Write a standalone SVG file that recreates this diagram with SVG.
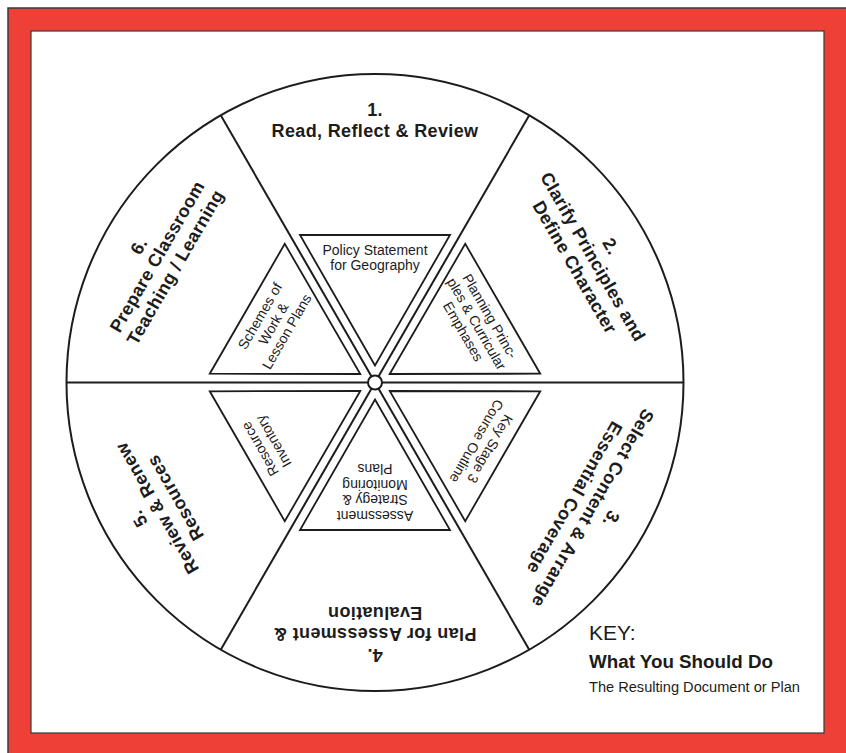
<svg xmlns="http://www.w3.org/2000/svg" width="846" height="753" viewBox="0 0 846 753">
<style>
.ln{fill:none;stroke:#1c1c1c;stroke-width:2}
.tri{fill:#fff;stroke:#1c1c1c;stroke-width:1.8}
.lab{font-family:"Liberation Sans",Arial,Helvetica,sans-serif;font-weight:bold;font-size:18px;letter-spacing:0.35px;fill:#1c1c1c;text-anchor:middle}
.doc{font-family:"Liberation Sans",Arial,Helvetica,sans-serif;font-size:14px;fill:#1c1c1c;text-anchor:middle}
.key{font-family:"Liberation Sans",Arial,Helvetica,sans-serif;fill:#1c1c1c}
</style>
<defs>
<polygon id="triShape" points="375,365.5 300,235 450,235"/>
</defs>
<rect x="0" y="0" width="846" height="753" fill="#ffffff"/>
<rect x="8" y="8" width="842" height="750" fill="#EE4036" stroke="#3a3a3a" stroke-width="1.5"/>
<rect x="31" y="31" width="793" height="702" fill="#ffffff" stroke="#3a3a3a" stroke-width="1.2"/>

<g id="wheel">
<circle cx="375" cy="382.5" r="308.5" class="ln" stroke-width="2.4"/>
<g id="connectors" class="ln">
<line x1="66.5" y1="382.5" x2="683.5" y2="382.5"/>
<line x1="220.75" y1="115.3" x2="529.25" y2="649.7"/>
<line x1="529.25" y1="115.3" x2="220.75" y2="649.7"/>
</g>
</g>

<g id="step-1" transform="rotate(0 375 382.5)">
<text class="lab" x="375" y="116">1.</text>
<text class="lab" x="375" y="137">Read, Reflect &amp; Review</text>
</g>
<g id="step-2" transform="rotate(60 375 382.5)">
<text class="lab" x="375" y="116">2.</text>
<text class="lab" x="375" y="137">Clarify Principles and</text>
<text class="lab" x="375" y="158">Define Character</text>
</g>
<g id="step-3" transform="rotate(120 375 382.5)">
<text class="lab" x="375" y="116">3.</text>
<text class="lab" x="375" y="137">Select Content &amp; Arrange</text>
<text class="lab" x="375" y="158">Essential Coverage</text>
</g>
<g id="step-4" transform="rotate(180 375 382.5)">
<text class="lab" x="375" y="116">4.</text>
<text class="lab" x="375" y="137">Plan for Assessment &amp;</text>
<text class="lab" x="375" y="158">Evaluation</text>
</g>
<g id="step-5" transform="rotate(240 375 382.5)">
<text class="lab" x="375" y="116">5.</text>
<text class="lab" x="375" y="137">Review &amp; Renew</text>
<text class="lab" x="375" y="158">Resources</text>
</g>
<g id="step-6" transform="rotate(300 375 382.5)">
<text class="lab" x="375" y="116">6.</text>
<text class="lab" x="375" y="137">Prepare Classroom</text>
<text class="lab" x="375" y="158">Teaching / Learning</text>
</g>

<g id="doc-1" transform="rotate(0 375 382.5)">
<use href="#triShape" class="tri"/>
<text class="doc" x="375" y="254.5">Policy Statement</text>
<text class="doc" x="375" y="270">for Geography</text>
</g>
<g id="doc-2" transform="rotate(60 375 382.5)">
<use href="#triShape" class="tri"/>
<text class="doc" x="375" y="254.5">Planning Princ-</text>
<text class="doc" x="375" y="270">ples &amp; Curricular</text>
<text class="doc" x="375" y="285.5">Emphases</text>
</g>
<g id="doc-3" transform="rotate(120 375 382.5)">
<use href="#triShape" class="tri"/>
<text class="doc" x="375" y="254.5">Key Stage 3</text>
<text class="doc" x="375" y="270">Course Outline</text>
</g>
<g id="doc-4" transform="rotate(180 375 382.5)">
<use href="#triShape" class="tri"/>
<text class="doc" x="375" y="254.5">Assessment</text>
<text class="doc" x="375" y="270">Strategy &amp;</text>
<text class="doc" x="375" y="285.5">Monitoring</text>
<text class="doc" x="375" y="301">Plans</text>
</g>
<g id="doc-5" transform="rotate(240 375 382.5)">
<use href="#triShape" class="tri"/>
<text class="doc" x="375" y="254.5">Resource</text>
<text class="doc" x="375" y="270">Inventory</text>
</g>
<g id="doc-6" transform="rotate(300 375 382.5)">
<use href="#triShape" class="tri"/>
<text class="doc" x="375" y="254.5">Schemes of</text>
<text class="doc" x="375" y="270">Work &amp;</text>
<text class="doc" x="375" y="285.5">Lesson Plans</text>
</g>

<g id="hub">
<circle cx="375" cy="382.5" r="7" fill="#ffffff" stroke="#1c1c1c" stroke-width="2"/>
</g>

<g id="key">
<text class="key" x="589" y="640" font-size="21">KEY:</text>
<text class="key" x="589" y="668" font-size="18.8" font-weight="bold">What You Should Do</text>
<text class="key" x="589" y="692" font-size="14.6">The Resulting Document or Plan</text>
</g>
</svg>
